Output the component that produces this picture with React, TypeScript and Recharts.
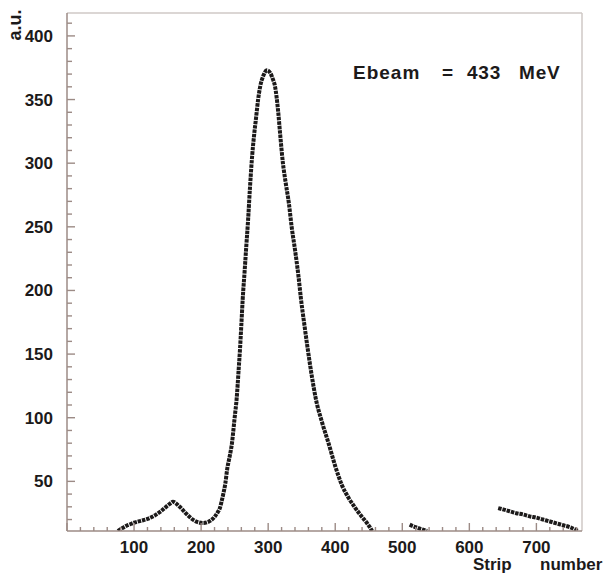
import React from 'react';
import { LineChart, Line, XAxis, YAxis, ReferenceLine } from 'recharts';

// main peak (strip number, a.u.)
const mainStrips = [76, 80, 85, 90, 95, 100, 110, 120, 130, 140, 150, 155, 158, 162, 166, 171, 177, 183, 189, 195, 203, 210, 215, 220, 225, 228, 230, 233, 236, 239, 242, 246, 250, 253, 256, 258, 260, 262, 265, 267, 270, 273, 276, 279, 282, 285, 288, 293, 298, 303, 307, 310, 315, 318, 322, 326, 331, 335, 340, 345, 349, 354, 359, 365, 371, 380, 390, 400, 405, 410, 420, 430, 440, 447, 451, 455];
const mainValues = [11, 12.5, 14, 15.5, 16.5, 17.5, 19, 20.5, 23, 26.5, 31, 33, 34, 33, 31, 28.5, 25, 22, 19.5, 18, 17.3, 18, 19.5, 22, 26, 29, 33, 40, 48, 60, 68, 80, 100, 115, 138, 154, 173, 193, 216, 232, 255, 282, 305, 322, 336, 350, 360, 369, 373, 371, 366, 361, 340, 322, 300, 285, 268, 250, 232, 212, 193, 173, 154, 133, 115, 97, 80, 62, 54, 47, 37, 29, 22, 17.5, 14.5, 11];

// short piece after the peak
const midStrips = [511, 515, 520, 525, 531, 537];
const midValues = [16, 15, 14, 13, 12, 11];

// right-hand tail
const tailStrips = [643, 650, 660, 670, 680, 690, 700, 710, 720, 730, 740, 750, 762];
const tailValues = [29, 28, 26.5, 25, 24, 22.5, 21.5, 20, 18.5, 17, 15.5, 14, 11];

const xTicks = [0, 20, 40, 60, 80, 100, 120, 140, 160, 180, 200, 220, 240, 260, 280, 300, 320, 340, 360, 380, 400, 420, 440, 460, 480, 500, 520, 540, 560, 580, 600, 620, 640, 660, 680, 700, 720, 740, 760];
const yTicks = [20, 30, 40, 50, 60, 70, 80, 90, 100, 110, 120, 130, 140, 150, 160, 170, 180, 190, 200, 210, 220, 230, 240, 250, 260, 270, 280, 290, 300, 310, 320, 330, 340, 350, 360, 370, 380, 390, 400, 410];

const X_MAX = 768;
const Y_MIN = 11;
const Y_MAX = 418;

const toRows = (xs: number[], ys: number[]) => xs.map((s, i) => ({ strip: s, au: ys[i] }));

const data = [
  ...toRows(mainStrips, mainValues),
  { strip: 480, au: null },
  ...toRows(midStrips, midValues),
  { strip: 590, au: null },
  ...toRows(tailStrips, tailValues),
];

const AXIS = '#9c8b86';
const FRAME = '#cfc8c6';
const INK = '#1c1a1a';
const FONT = '"Liberation Sans", Arial, sans-serif';

const XTick = (props: any) => {
  const { x, y, payload } = props;
  const major = payload.value % 100 === 0;
  return (
    <g>
      <path d={`M${x},${y}V${y - (major ? 8 : 4)}`} stroke={AXIS} strokeWidth={1.4} fill="none" />
      {major && payload.value > 0 && (
        <text x={x} y={y + 22} textAnchor="middle" fontFamily={FONT} fontWeight="bold" fontSize={17} fill={INK}>
          {payload.value}
        </text>
      )}
    </g>
  );
};

const YTick = (props: any) => {
  const { x, y, payload } = props;
  const major = payload.value % 50 === 0;
  return (
    <g>
      <path d={`M${x},${y}H${x + (major ? 8 : 5)}`} stroke={AXIS} strokeWidth={1.4} fill="none" />
      {major && (
        <text x={x - 14} y={y + 6} textAnchor="end" fontFamily={FONT} fontWeight="bold" fontSize={17} fill={INK}>
          {payload.value}
        </text>
      )}
    </g>
  );
};

const textStyle: React.CSSProperties = {
  position: 'absolute',
  fontFamily: FONT,
  fontWeight: 'bold',
  color: INK,
  lineHeight: 1,
  whiteSpace: 'pre',
};

const App: React.FC = () => {
  return (
    <div style={{ position: 'absolute', left: 0, top: 0, width: 607, height: 576, background: '#fff' }}>
      <LineChart width={607} height={576} data={data} margin={{ top: 13, right: 25, left: 0, bottom: 0 }}>
        <XAxis
          dataKey="strip"
          type="number"
          domain={[0, X_MAX]}
          ticks={xTicks}
          interval={0}
          height={45}
          tickSize={0}
          tickMargin={0}
          tickLine={false}
          tick={<XTick />}
          axisLine={{ stroke: AXIS, strokeWidth: 1.5 }}
          allowDataOverflow
        />
        <YAxis
          type="number"
          domain={[Y_MIN, Y_MAX]}
          ticks={yTicks}
          interval={0}
          width={67}
          tickSize={0}
          tickMargin={0}
          tickLine={false}
          tick={<YTick />}
          axisLine={{ stroke: AXIS, strokeWidth: 1.5 }}
          allowDataOverflow
        />
        <ReferenceLine y={Y_MAX} stroke={FRAME} strokeWidth={1.5} />
        <ReferenceLine x={X_MAX} stroke={FRAME} strokeWidth={1.5} />
        <Line
          dataKey="au"
          type="monotone"
          stroke={INK}
          strokeWidth={4}
          strokeDasharray="3.5 0.9"
          dot={false}
          connectNulls={false}
          isAnimationActive={false}
        />
      </LineChart>
      <div style={{ ...textStyle, fontSize: 19, left: 353, top: 63, letterSpacing: 1 }}>Ebeam</div>
      <div style={{ ...textStyle, fontSize: 19, left: 442, top: 63 }}>=</div>
      <div style={{ ...textStyle, fontSize: 19, left: 467, top: 63, letterSpacing: 0.8 }}>433</div>
      <div style={{ ...textStyle, fontSize: 19, left: 519, top: 63, letterSpacing: 0.8 }}>MeV</div>
      <div style={{ ...textStyle, fontSize: 17, left: 473, top: 556 }}>Strip</div>
      <div style={{ ...textStyle, fontSize: 17, left: 540, top: 556 }}>number</div>
      <div
        style={{
          ...textStyle,
          fontSize: 18,
          left: 15,
          top: 25,
          transform: 'translate(-50%, -50%) rotate(-90deg)',
        }}
      >
        a.u.
      </div>
    </div>
  );
};

export default App;
